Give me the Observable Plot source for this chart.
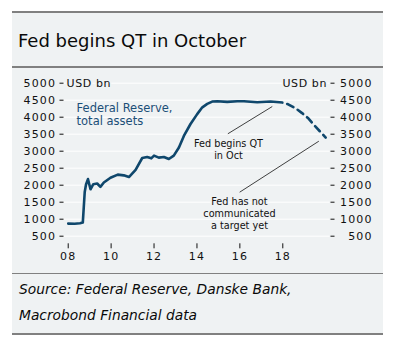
<!DOCTYPE html>
<html><head><meta charset="utf-8">
<script src="https://cdn.jsdelivr.net/npm/d3@7"></script>
<script src="https://cdn.jsdelivr.net/npm/@observablehq/plot@0.6"></script>
<style>
body{margin:0;background:#fff;font-family:"DejaVu Sans",sans-serif;}
#wrap{position:relative;width:401px;height:353px;overflow:hidden;background:#fff;}
.abs{position:absolute;}
#bg{left:12px;top:12px;width:371px;height:322px;background:#eff2f3;}
.rule{left:12px;width:371px;background:#808080;}
#title{left:18px;top:31.5px;font-size:18px;line-height:18px;color:#0a0a0a;white-space:nowrap;}
#chart{left:12px;top:68px;}
#caption{left:19px;top:276.2px;font-size:13.8px;line-height:26px;font-style:italic;color:#0a0a0a;white-space:nowrap;}
g[aria-label="y-axis tick label"] text, g[aria-label="x-axis tick label"] text, g[aria-description="rticks"] text{letter-spacing:1.1px;}
g[aria-description="units"] text{letter-spacing:0.6px;}
</style></head>
<body>
<div id="wrap">
  <div id="bg" class="abs"></div>
  <div class="abs rule" style="top:11px;height:2px"></div>
  <div class="abs rule" style="top:66px;height:2px"></div>
  <div class="abs rule" style="top:272.5px;height:1.5px"></div>
  <div class="abs rule" style="top:333.3px;height:1.5px"></div>
  <div id="title" class="abs">Fed begins QT in October</div>
  <div id="chart" class="abs"></div>
  <div id="caption" class="abs">Source: Federal Reserve, Danske Bank,<br>Macrobond Financial data</div>
</div>
<script>
// Fed total assets, USD bn
const years = [2008.0, 2008.3, 2008.55, 2008.68, 2008.72, 2008.77, 2008.83, 2008.92, 2009.04, 2009.17, 2009.35, 2009.5, 2009.66, 2009.97, 2010.31, 2010.59, 2010.83, 2011.14, 2011.45, 2011.68, 2011.87, 2012.0, 2012.22, 2012.46, 2012.69, 2012.92, 2013.16, 2013.39, 2013.7, 2014.01, 2014.25, 2014.48, 2014.71, 2014.95, 2015.41, 2015.88, 2016.19, 2016.81, 2017.43, 2017.98];
const assets = [870, 865, 880, 900, 1300, 1800, 2020, 2180, 1880, 2030, 2050, 1950, 2080, 2220, 2310, 2290, 2240, 2450, 2800, 2830, 2790, 2870, 2810, 2830, 2770, 2870, 3110, 3450, 3800, 4090, 4290, 4390, 4460, 4470, 4450, 4470, 4470, 4440, 4460, 4430];
// Projection (dashed)
const projYears = [2017.98, 2018.25, 2018.6, 2018.9, 2019.2, 2019.5, 2019.75, 2020.0];
const projAssets = [4430, 4380, 4260, 4120, 3960, 3740, 3570, 3400];

const yTicks = [500, 1000, 1500, 2000, 2500, 3000, 3500, 4000, 4500, 5000];
const xTicks = [2008, 2010, 2012, 2014, 2016, 2018];
const xTickLabels = ["08", "10", "12", "14", "16", "18"];
const unitLabel = "USD bn";

const seriesLabel = "Federal Reserve,\ntotal assets";
const seriesLabelPos = [2008.39, 4085];

const noteTexts = ["Fed begins QT\nin Oct", "Fed has not\ncommunicated\na target yet"];
const noteX = [2015.47, 2015.98];
const noteY = [3065, 1168];
const leaderX1 = [2015.44, 2015.99];
const leaderY1 = [3512, 1794];
const leaderX2 = [2017.51, 2019.68];
const leaderY2 = [4314, 3294];

const solid = years.map((x, i) => ({x, y: assets[i]}));
const proj = projYears.map((x, i) => ({x, y: projAssets[i]}));
const notes = noteTexts.map((t, i) => ({t, x: noteX[i], y: noteY[i]}));
const leaders = leaderX1.map((x1, i) => ({x1, y1: leaderY1[i], x2: leaderX2[i], y2: leaderY2[i]}));
const xLab = new Map(xTicks.map((d, i) => [d, xTickLabels[i]]));

const bg = "#eff2f3";
const navy = "#0f476c";
const ink = "#111";

const chart = Plot.plot({
  width: 371, height: 204,
  marginLeft: 51.5, marginRight: 53.5, marginTop: 10, marginBottom: 28.7,
  x: {domain: [2007.804, 2020.2]},
  y: {domain: [276.5, 5138]},
  style: {background: "transparent", fontFamily: "DejaVu Sans", fontSize: "11px", color: ink, overflow: "visible"},
  marks: [
    Plot.gridY(yTicks, {stroke: "#fff", strokeOpacity: 1, strokeWidth: 1}),
    Plot.axisY(yTicks, {anchor: "left", tickSize: 4, tickPadding: 4, tickFormat: d => String(d), label: null, fontSize: 11}),
    Plot.axisY(yTicks, {anchor: "right", tickSize: 4, tickFormat: () => "", label: null}),
    Plot.text(yTicks, {y: d => d, frameAnchor: "right", dx: 42.5, textAnchor: "end", text: d => String(d), fontSize: 11, fill: ink, ariaDescription: "rticks"}),
    Plot.axisX(xTicks, {tickSize: 5, tickPadding: 3.5, tickFormat: d => xLab.get(d), label: null, fontSize: 11}),
    Plot.text([unitLabel], {y: 5000, frameAnchor: "left", dx: 2.5, textAnchor: "start", text: d => d, fontSize: 11, fill: ink, stroke: bg, strokeWidth: 3, ariaDescription: "units"}),
    Plot.text([unitLabel], {y: 5000, frameAnchor: "right", dx: -3, textAnchor: "end", text: d => d, fontSize: 11, fill: ink, stroke: bg, strokeWidth: 3, ariaDescription: "units"}),
    Plot.link(leaders, {x1: "x1", y1: "y1", x2: "x2", y2: "y2", stroke: ink, strokeWidth: 0.8}),
    Plot.line(solid, {x: "x", y: "y", stroke: navy, strokeWidth: 2.6, strokeLinejoin: "round"}),
    Plot.line(proj, {x: "x", y: "y", stroke: navy, strokeWidth: 2.6, strokeDasharray: "7,5", strokeDashoffset: 7}),
    Plot.text(notes, {x: "x", y: "y", text: "t", fontSize: 9.7, lineHeight: 1.25, textAnchor: "middle", lineAnchor: "middle", fill: ink, stroke: bg, strokeWidth: 3}),
    Plot.text([seriesLabel], {x: seriesLabelPos[0], y: seriesLabelPos[1], text: d => d, fontSize: 11.5, lineHeight: 1.1, textAnchor: "start", lineAnchor: "middle", fill: "#1c4f78"})
  ]
});
document.getElementById("chart").appendChild(chart);
</script>
</body></html>
